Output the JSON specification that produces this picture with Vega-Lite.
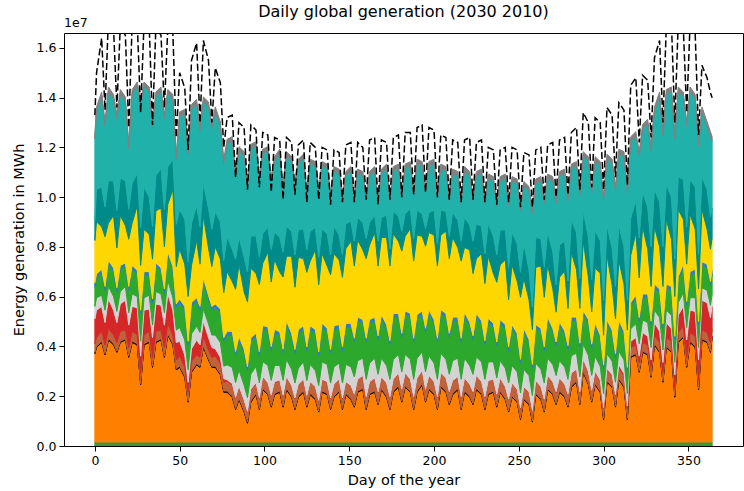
{
"$schema": "https://vega.github.io/schema/vega-lite/v6.json",
"width": 679, "height": 413,
"autosize": {"type": "none"},
"padding": {"left": 64, "top": 33, "right": 1, "bottom": 45},
"background": "white",
"title": {"text": "Daily global generation (2030 2010)", "fontSize": 16, "fontWeight": "normal", "font": "DejaVu Sans", "color": "black", "offset": -3, "anchor": "middle"},
"config": {"view": {"stroke": "black", "strokeWidth": 1}, "font": "DejaVu Sans"},
"data": {"values": [
{"day":0,"a":1.6e5,"b":3.55e6,"c":5e4,"d":3.5e5,"e":1e6,"f":5e5,"g":8e5,"h":1.5e5,"i":1.7e6,"j":8e5,"k":3.29e6,"l":1.8e5,"dem":1.33e7},
{"day":1,"a":1.6e5,"b":3.8e6,"c":5e4,"d":3.5e5,"e":1.1e6,"f":5e5,"g":8e5,"h":1.5e5,"i":2.1e6,"j":1.3e6,"k":3.14e6,"l":1.8e5,"dem":1.5e7},
{"day":4,"a":1.6e5,"b":4e6,"c":5e4,"d":4e5,"e":1e6,"f":4.5e5,"g":9e5,"h":1.5e5,"i":1.7e6,"j":1.6e6,"k":3.64e6,"l":1.8e5,"dem":1.64e7},
{"day":6,"a":1.6e5,"b":3.5e6,"c":5e4,"d":3.5e5,"e":9e5,"f":5e5,"g":8e5,"h":1.5e5,"i":2e6,"j":1.2e6,"k":3.24e6,"l":1.8e5,"dem":1.35e7},
{"day":8,"a":1.6e5,"b":4.1e6,"c":5e4,"d":4e5,"e":1.2e6,"f":5e5,"g":9e5,"h":1.5e5,"i":1.5e6,"j":1.7e6,"k":3.59e6,"l":1.8e5,"dem":1.72e7},
{"day":11,"a":1.6e5,"b":3.9e6,"c":5e4,"d":3.5e5,"e":1e6,"f":5.5e5,"g":1e6,"h":1.5e5,"i":2.1e6,"j":1.4e6,"k":3.29e6,"l":1.8e5,"dem":1.68e7},
{"day":13,"a":1.6e5,"b":3.6e6,"c":5e4,"d":3.5e5,"e":8e5,"f":4.5e5,"g":8e5,"h":1.5e5,"i":1.6e6,"j":1.5e6,"k":3.69e6,"l":1.8e5,"dem":1.36e7},
{"day":15,"a":1.6e5,"b":4e6,"c":5e4,"d":4e5,"e":1.1e6,"f":5e5,"g":9e5,"h":1.5e5,"i":2e6,"j":1.5e6,"k":3.39e6,"l":1.8e5,"dem":1.69e7},
{"day":18,"a":1.6e5,"b":4.1e6,"c":5e4,"d":3.5e5,"e":1.2e6,"f":5.5e5,"g":8e5,"h":1.5e5,"i":1.5e6,"j":1.8e6,"k":3.19e6,"l":1.8e5,"dem":1.65e7},
{"day":20,"a":1.6e5,"b":3.4e6,"c":5e4,"d":3.5e5,"e":9e5,"f":5e5,"g":9e5,"h":1.5e5,"i":1.9e6,"j":1.2e6,"k":2.44e6,"l":1.8e5,"dem":1.28e7},
{"day":22,"a":1.6e5,"b":4e6,"c":5e4,"d":4e5,"e":1e6,"f":5e5,"g":1e6,"h":1.5e5,"i":1.7e6,"j":1.6e6,"k":3.59e6,"l":1.8e5,"dem":1.7e7},
{"day":25,"a":1.6e5,"b":3.9e6,"c":5e4,"d":3.5e5,"e":1.1e6,"f":4.5e5,"g":9e5,"h":1.5e5,"i":2.6e6,"j":1.3e6,"k":3.49e6,"l":1.8e5,"dem":1.7e7},
{"day":27,"a":1.6e5,"b":2.3e6,"c":5e4,"d":4e5,"e":7e5,"f":6e5,"g":1.1e6,"h":1.5e5,"i":1.8e6,"j":1.5e6,"k":4.89e6,"l":1.8e5,"dem":1.34e7},
{"day":29,"a":1.6e5,"b":3.9e6,"c":5e4,"d":3.5e5,"e":1e6,"f":5e5,"g":9e5,"h":1.5e5,"i":1.7e6,"j":1.7e6,"k":4.04e6,"l":1.8e5,"dem":1.7e7},
{"day":32,"a":1.6e5,"b":4e6,"c":5e4,"d":4e5,"e":9e5,"f":5.5e5,"g":8e5,"h":1.5e5,"i":1.5e6,"j":1.5e6,"k":4.24e6,"l":1.8e5,"dem":1.7e7},
{"day":34,"a":1.6e5,"b":3e6,"c":5e4,"d":3.5e5,"e":8e5,"f":5e5,"g":9e5,"h":1.5e5,"i":1.6e6,"j":1.3e6,"k":4.04e6,"l":1.8e5,"dem":1.29e7},
{"day":36,"a":1.6e5,"b":4e6,"c":5e4,"d":4e5,"e":1.1e6,"f":5e5,"g":1e6,"h":1.5e5,"i":2.1e6,"j":1.4e6,"k":3.19e6,"l":1.8e5,"dem":1.69e7},
{"day":39,"a":1.6e5,"b":4.1e6,"c":5e4,"d":3.5e5,"e":1e6,"f":4.5e5,"g":9e5,"h":1.5e5,"i":2.4e6,"j":1.6e6,"k":3.09e6,"l":1.8e5,"dem":1.65e7},
{"day":41,"a":1.6e5,"b":3.4e6,"c":5e4,"d":3.5e5,"e":9e5,"f":5e5,"g":8e5,"h":1.5e5,"i":1.7e6,"j":1.5e6,"k":3.64e6,"l":1.8e5,"dem":1.36e7},
{"day":43,"a":1.6e5,"b":4.3e6,"c":5e4,"d":4e5,"e":1.2e6,"f":5.5e5,"g":1e6,"h":1.5e5,"i":1.9e6,"j":1.5e6,"k":2.94e6,"l":1.8e5,"dem":1.68e7},
{"day":46,"a":1.6e5,"b":3.9e6,"c":5e4,"d":3.5e5,"e":1e6,"f":5e5,"g":1.1e6,"h":1.5e5,"i":3.1e6,"j":1.2e6,"k":2.44e6,"l":1.8e5,"dem":1.66e7},
{"day":48,"a":1.6e5,"b":2.9e6,"c":5e4,"d":3.5e5,"e":7e5,"f":5e5,"g":9e5,"h":1.5e5,"i":1.5e6,"j":1.7e6,"k":2.64e6,"l":1.8e5,"dem":1.24e7},
{"day":50,"a":1.6e5,"b":3e6,"c":5e4,"d":4e5,"e":6e5,"f":5.5e5,"g":1e6,"h":1.5e5,"i":2e6,"j":1.6e6,"k":3.74e6,"l":1.8e5,"dem":1.5e7},
{"day":53,"a":1.6e5,"b":2.6e6,"c":5e4,"d":3.5e5,"e":5e5,"f":6e5,"g":1.2e6,"h":1.5e5,"i":1.7e6,"j":1.8e6,"k":4.24e6,"l":1.8e5,"dem":1.44e7},
{"day":55,"a":1.6e5,"b":1.6e6,"c":5e4,"d":3.5e5,"e":4e5,"f":5e5,"g":1e6,"h":1.5e5,"i":1.8e6,"j":1.4e6,"k":4.34e6,"l":1.8e5,"dem":1.19e7},
{"day":57,"a":1.6e5,"b":2.8e6,"c":5e4,"d":4e5,"e":5e5,"f":6e5,"g":1.1e6,"h":1.5e5,"i":1.5e6,"j":1.7e6,"k":4.59e6,"l":1.8e5,"dem":1.55e7},
{"day":60,"a":1.6e5,"b":3.1e6,"c":5e4,"d":3.5e5,"e":6e5,"f":5.5e5,"g":1e6,"h":1.5e5,"i":2.3e6,"j":1.4e6,"k":4.09e6,"l":1.8e5,"dem":1.62e7},
{"day":62,"a":1.6e5,"b":3e6,"c":5e4,"d":3.5e5,"e":5e5,"f":5e5,"g":9e5,"h":1.5e5,"i":1.7e6,"j":1.5e6,"k":3.84e6,"l":1.8e5,"dem":1.3e7},
{"day":64,"a":1.6e5,"b":3.8e6,"c":5e4,"d":4e5,"e":6e5,"f":5e5,"g":1.1e6,"h":1.5e5,"i":2.5e6,"j":1.3e6,"k":3.29e6,"l":1.8e5,"dem":1.63e7},
{"day":67,"a":1.6e5,"b":3.3e6,"c":5e4,"d":3.5e5,"e":5e5,"f":5.5e5,"g":1e6,"h":1.5e5,"i":1.9e6,"j":1.6e6,"k":4.09e6,"l":1.8e5,"dem":1.55e7},
{"day":69,"a":1.6e5,"b":3e6,"c":5e4,"d":3.5e5,"e":4e5,"f":5e5,"g":1e6,"h":1.5e5,"i":1.6e6,"j":1.5e6,"k":4.04e6,"l":1.8e5,"dem":1.3e7},
{"day":71,"a":1.6e5,"b":3e6,"c":5e4,"d":4e5,"e":3e5,"f":5.5e5,"g":1.1e6,"h":1.5e5,"i":2.3e6,"j":1.4e6,"k":4.04e6,"l":1.8e5,"dem":1.52e7},
{"day":74,"a":1.6e5,"b":2.7e6,"c":5e4,"d":4e5,"e":2.5e5,"f":6e5,"g":1.2e6,"h":1.5e5,"i":2e6,"j":1.5e6,"k":3.84e6,"l":1.8e5,"dem":1.46e7},
{"day":76,"a":1.6e5,"b":2e6,"c":5e4,"d":3.5e5,"e":1.5e5,"f":5e5,"g":1e6,"h":1.5e5,"i":1.8e6,"j":1.3e6,"k":3.89e6,"l":1.8e5,"dem":1.2e7},
{"day":78,"a":1.6e5,"b":2e6,"c":5e4,"d":4e5,"e":5e4,"f":6e5,"g":1.2e6,"h":1.5e5,"i":2.4e6,"j":1.4e6,"k":3.74e6,"l":1.8e5,"dem":1.32e7},
{"day":81,"a":1.6e5,"b":1.8e6,"c":5e4,"d":4.5e5,"e":5e4,"f":6.5e5,"g":1.3e6,"h":1.5e5,"i":2e6,"j":1.3e6,"k":4.34e6,"l":1.8e5,"dem":1.33e7},
{"day":83,"a":1.6e5,"b":1.3e6,"c":5e4,"d":4e5,"e":4e4,"f":6e5,"g":1.1e6,"h":1.5e5,"i":2.5e6,"j":1.2e6,"k":3.25e6,"l":1.8e5,"dem":1.08e7},
{"day":85,"a":1.6e5,"b":1.7e6,"c":5e4,"d":4.5e5,"e":4e4,"f":6.5e5,"g":1.2e6,"h":1.5e5,"i":2.9e6,"j":1.1e6,"k":3.45e6,"l":1.8e5,"dem":1.3e7},
{"day":88,"a":1.6e5,"b":1.2e6,"c":5e4,"d":4e5,"e":3e4,"f":6e5,"g":1.3e6,"h":1.5e5,"i":2.3e6,"j":1.4e6,"k":4.06e6,"l":1.8e5,"dem":1.28e7},
{"day":90,"a":1.6e5,"b":7.5e5,"c":5e4,"d":4e5,"e":3e4,"f":5.5e5,"g":1.1e6,"h":1.5e5,"i":2.6e6,"j":1.2e6,"k":3.36e6,"l":1.8e5,"dem":1.03e7},
{"day":92,"a":1.6e5,"b":1.6e6,"c":5e4,"d":4.5e5,"e":3e4,"f":6e5,"g":1.3e6,"h":1.5e5,"i":2.8e6,"j":1.3e6,"k":3.51e6,"l":1.8e5,"dem":1.29e7},
{"day":95,"a":1.6e5,"b":1.9e6,"c":5e4,"d":4e5,"e":3e4,"f":6.5e5,"g":1.2e6,"h":1.5e5,"i":2.4e6,"j":1.5e6,"k":3.61e6,"l":1.8e5,"dem":1.27e7},
{"day":97,"a":1.6e5,"b":1.3e6,"c":5e4,"d":4e5,"e":3e4,"f":6e5,"g":1.1e6,"h":1.5e5,"i":2.7e6,"j":1.1e6,"k":3.16e6,"l":1.8e5,"dem":1.04e7},
{"day":99,"a":1.6e5,"b":2.1e6,"c":5e4,"d":4.5e5,"e":3e4,"f":6e5,"g":1.3e6,"h":1.5e5,"i":2.5e6,"j":1.2e6,"k":3.21e6,"l":1.8e5,"dem":1.26e7},
{"day":102,"a":1.6e5,"b":1.9e6,"c":5e4,"d":4e5,"e":3e4,"f":7e5,"g":1.4e6,"h":1.5e5,"i":3e6,"j":1e6,"k":3.06e6,"l":1.8e5,"dem":1.25e7},
{"day":104,"a":1.6e5,"b":1.4e6,"c":5e4,"d":4e5,"e":3e4,"f":6e5,"g":1.2e6,"h":1.5e5,"i":2.6e6,"j":1.3e6,"k":2.76e6,"l":1.8e5,"dem":1.02e7},
{"day":106,"a":1.6e5,"b":1.9e6,"c":5e4,"d":4.5e5,"e":3e4,"f":6.5e5,"g":1.3e6,"h":1.5e5,"i":2.8e6,"j":1.1e6,"k":2.86e6,"l":1.8e5,"dem":1.24e7},
{"day":109,"a":1.6e5,"b":2e6,"c":5e4,"d":4e5,"e":3e4,"f":6e5,"g":1.2e6,"h":1.5e5,"i":2.4e6,"j":1.4e6,"k":3.36e6,"l":1.8e5,"dem":1.23e7},
{"day":111,"a":1.6e5,"b":1.4e6,"c":5e4,"d":4e5,"e":3e4,"f":6e5,"g":1.1e6,"h":1.5e5,"i":2.9e6,"j":1e6,"k":2.46e6,"l":1.8e5,"dem":9.9e6},
{"day":113,"a":1.6e5,"b":2.1e6,"c":5e4,"d":4.5e5,"e":2e4,"f":7e5,"g":1.4e6,"h":1.5e5,"i":2.6e6,"j":1.2e6,"k":2.82e6,"l":1.8e5,"dem":1.24e7},
{"day":116,"a":1.6e5,"b":1.8e6,"c":5e4,"d":4e5,"e":2e4,"f":6.5e5,"g":1.3e6,"h":1.5e5,"i":3.1e6,"j":1e6,"k":2.82e6,"l":1.8e5,"dem":1.22e7},
{"day":118,"a":1.6e5,"b":1.3e6,"c":5e4,"d":4e5,"e":2e4,"f":6e5,"g":1.2e6,"h":1.5e5,"i":2.5e6,"j":1.3e6,"k":2.77e6,"l":1.8e5,"dem":1.01e7},
{"day":120,"a":1.6e5,"b":1.8e6,"c":5e4,"d":4.5e5,"e":2e4,"f":6.5e5,"g":1.4e6,"h":1.5e5,"i":2.9e6,"j":1.1e6,"k":2.67e6,"l":1.8e5,"dem":1.21e7},
{"day":123,"a":1.6e5,"b":2e6,"c":5e4,"d":4.5e5,"e":2e4,"f":7e5,"g":1.3e6,"h":1.5e5,"i":2.7e6,"j":1.2e6,"k":2.82e6,"l":1.8e5,"dem":1.23e7},
{"day":125,"a":1.6e5,"b":1.4e6,"c":5e4,"d":4e5,"e":2e4,"f":6e5,"g":1.2e6,"h":1.5e5,"i":3e6,"j":9e5,"k":2.17e6,"l":1.8e5,"dem":9.8e6},
{"day":127,"a":1.6e5,"b":1.9e6,"c":5e4,"d":4.5e5,"e":2e4,"f":7e5,"g":1.4e6,"h":1.5e5,"i":2.6e6,"j":1.2e6,"k":2.72e6,"l":1.8e5,"dem":1.22e7},
{"day":130,"a":1.6e5,"b":1.7e6,"c":5e4,"d":4.5e5,"e":2e4,"f":6.5e5,"g":1.5e6,"h":1.5e5,"i":3.2e6,"j":9e5,"k":2.47e6,"l":1.8e5,"dem":1.2e7},
{"day":132,"a":1.6e5,"b":1.2e6,"c":5e4,"d":4e5,"e":2e4,"f":6e5,"g":1.2e6,"h":1.5e5,"i":2.7e6,"j":1.1e6,"k":2.57e6,"l":1.8e5,"dem":9.9e6},
{"day":134,"a":1.6e5,"b":2e6,"c":5e4,"d":4.5e5,"e":2e4,"f":7e5,"g":1.4e6,"h":1.5e5,"i":2.8e6,"j":1e6,"k":2.52e6,"l":1.8e5,"dem":1.2e7},
{"day":137,"a":1.6e5,"b":1.9e6,"c":5e4,"d":4.5e5,"e":2e4,"f":7e5,"g":1.3e6,"h":1.5e5,"i":2.5e6,"j":1.3e6,"k":2.62e6,"l":1.8e5,"dem":1.19e7},
{"day":139,"a":1.6e5,"b":1.3e6,"c":5e4,"d":4e5,"e":2e4,"f":6e5,"g":1.2e6,"h":1.5e5,"i":3e6,"j":8e5,"k":2.27e6,"l":1.8e5,"dem":9.7e6},
{"day":141,"a":1.6e5,"b":1.8e6,"c":5e4,"d":4.5e5,"e":2e4,"f":7e5,"g":1.5e6,"h":1.5e5,"i":2.9e6,"j":1.1e6,"k":2.22e6,"l":1.8e5,"dem":1.19e7},
{"day":144,"a":1.6e5,"b":2e6,"c":5e4,"d":4.5e5,"e":2e4,"f":6.5e5,"g":1.4e6,"h":1.5e5,"i":2.6e6,"j":1e6,"k":2.47e6,"l":1.8e5,"dem":1.18e7},
{"day":146,"a":1.6e5,"b":1.3e6,"c":5e4,"d":4e5,"e":2e4,"f":6e5,"g":1.3e6,"h":1.5e5,"i":2.8e6,"j":9e5,"k":2.17e6,"l":1.8e5,"dem":9.8e6},
{"day":148,"a":1.6e5,"b":1.9e6,"c":5e4,"d":4.5e5,"e":2e4,"f":7e5,"g":1.5e6,"h":1.5e5,"i":3e6,"j":1e6,"k":1.92e6,"l":1.8e5,"dem":1.21e7},
{"day":151,"a":1.6e5,"b":1.7e6,"c":5e4,"d":5e5,"e":2e4,"f":7.5e5,"g":1.6e6,"h":1.5e5,"i":3.3e6,"j":8e5,"k":2.02e6,"l":1.8e5,"dem":1.22e7},
{"day":153,"a":1.6e5,"b":1.4e6,"c":5e4,"d":4.5e5,"e":2e4,"f":7e5,"g":1.4e6,"h":1.5e5,"i":2.9e6,"j":1e6,"k":1.62e6,"l":1.8e5,"dem":9.8e6},
{"day":155,"a":1.6e5,"b":2e6,"c":5e4,"d":4.5e5,"e":2e4,"f":7.5e5,"g":1.6e6,"h":1.5e5,"i":3.1e6,"j":9e5,"k":1.77e6,"l":1.8e5,"dem":1.22e7},
{"day":158,"a":1.6e5,"b":2.1e6,"c":5e4,"d":5e5,"e":2e4,"f":7e5,"g":1.4e6,"h":1.5e5,"i":2.8e6,"j":1.1e6,"k":1.87e6,"l":1.8e5,"dem":1.2e7},
{"day":160,"a":1.6e5,"b":1.3e6,"c":5e4,"d":4.5e5,"e":2e4,"f":7e5,"g":1.5e6,"h":1.5e5,"i":3.2e6,"j":8e5,"k":1.62e6,"l":1.8e5,"dem":9.9e6},
{"day":162,"a":1.6e5,"b":1.9e6,"c":5e4,"d":4.5e5,"e":2e4,"f":7.5e5,"g":1.6e6,"h":1.5e5,"i":3e6,"j":9e5,"k":1.87e6,"l":1.8e5,"dem":1.23e7},
{"day":165,"a":1.6e5,"b":2e6,"c":5e4,"d":5e5,"e":2e4,"f":8e5,"g":1.5e6,"h":1.5e5,"i":3.4e6,"j":7e5,"k":1.77e6,"l":1.8e5,"dem":1.24e7},
{"day":167,"a":1.6e5,"b":1.5e6,"c":5e4,"d":4.5e5,"e":2e4,"f":7e5,"g":1.4e6,"h":1.5e5,"i":2.8e6,"j":1e6,"k":1.52e6,"l":1.8e5,"dem":9.7e6},
{"day":169,"a":1.6e5,"b":2.1e6,"c":5e4,"d":4.5e5,"e":2e4,"f":7.5e5,"g":1.6e6,"h":1.5e5,"i":3.1e6,"j":8e5,"k":1.77e6,"l":1.8e5,"dem":1.23e7},
{"day":172,"a":1.6e5,"b":1.8e6,"c":5e4,"d":5e5,"e":2e4,"f":7e5,"g":1.5e6,"h":1.5e5,"i":3.5e6,"j":9e5,"k":1.87e6,"l":1.8e5,"dem":1.22e7},
{"day":174,"a":1.6e5,"b":1.3e6,"c":5e4,"d":4.5e5,"e":2e4,"f":7e5,"g":1.4e6,"h":1.5e5,"i":3e6,"j":7e5,"k":1.92e6,"l":1.8e5,"dem":9.9e6},
{"day":176,"a":1.6e5,"b":2e6,"c":5e4,"d":4.5e5,"e":2e4,"f":8e5,"g":1.7e6,"h":1.5e5,"i":3.2e6,"j":9e5,"k":1.62e6,"l":1.8e5,"dem":1.24e7},
{"day":179,"a":1.6e5,"b":2.2e6,"c":5e4,"d":5e5,"e":2e4,"f":7.5e5,"g":1.5e6,"h":1.5e5,"i":2.9e6,"j":1e6,"k":1.92e6,"l":1.8e5,"dem":1.25e7},
{"day":181,"a":1.6e5,"b":1.6e6,"c":5e4,"d":4.5e5,"e":2e4,"f":7e5,"g":1.4e6,"h":1.5e5,"i":3.3e6,"j":8e5,"k":1.32e6,"l":1.8e5,"dem":1e7},
{"day":183,"a":1.6e5,"b":2.2e6,"c":5e4,"d":5e5,"e":2e4,"f":7.5e5,"g":1.6e6,"h":1.5e5,"i":3e6,"j":9e5,"k":1.82e6,"l":1.8e5,"dem":1.26e7},
{"day":186,"a":1.6e5,"b":2e6,"c":5e4,"d":4.5e5,"e":2e4,"f":8e5,"g":1.7e6,"h":1.5e5,"i":3.4e6,"j":8e5,"k":1.72e6,"l":1.8e5,"dem":1.26e7},
{"day":188,"a":1.6e5,"b":1.3e6,"c":5e4,"d":4.5e5,"e":2e4,"f":7e5,"g":1.5e6,"h":1.5e5,"i":3.1e6,"j":9e5,"k":1.72e6,"l":1.8e5,"dem":1.01e7},
{"day":190,"a":1.6e5,"b":2e6,"c":5e4,"d":5e5,"e":2e4,"f":8e5,"g":1.6e6,"h":1.5e5,"i":3.2e6,"j":1e6,"k":1.87e6,"l":1.8e5,"dem":1.28e7},
{"day":193,"a":1.6e5,"b":2.3e6,"c":5e4,"d":5e5,"e":2e4,"f":7.5e5,"g":1.5e6,"h":1.5e5,"i":3e6,"j":9e5,"k":1.92e6,"l":1.8e5,"dem":1.29e7},
{"day":195,"a":1.6e5,"b":1.6e6,"c":5e4,"d":4.5e5,"e":2e4,"f":7e5,"g":1.6e6,"h":1.5e5,"i":3.3e6,"j":7e5,"k":1.42e6,"l":1.8e5,"dem":1.02e7},
{"day":197,"a":1.6e5,"b":2.1e6,"c":5e4,"d":5e5,"e":2e4,"f":8e5,"g":1.7e6,"h":1.5e5,"i":3.1e6,"j":8e5,"k":1.87e6,"l":1.8e5,"dem":1.28e7},
{"day":200,"a":1.6e5,"b":1.9e6,"c":5e4,"d":4.5e5,"e":2e4,"f":7.5e5,"g":1.6e6,"h":1.5e5,"i":3.4e6,"j":1e6,"k":1.87e6,"l":1.8e5,"dem":1.27e7},
{"day":202,"a":1.6e5,"b":1.3e6,"c":5e4,"d":4.5e5,"e":2e4,"f":7e5,"g":1.5e6,"h":1.5e5,"i":2.9e6,"j":9e5,"k":1.82e6,"l":1.8e5,"dem":1e7},
{"day":204,"a":1.6e5,"b":2.2e6,"c":5e4,"d":5e5,"e":2e4,"f":8e5,"g":1.6e6,"h":1.5e5,"i":3e6,"j":1e6,"k":1.67e6,"l":1.8e5,"dem":1.25e7},
{"day":207,"a":1.6e5,"b":2e6,"c":5e4,"d":5e5,"e":2e4,"f":7.5e5,"g":1.7e6,"h":1.5e5,"i":3.3e6,"j":8e5,"k":1.62e6,"l":1.8e5,"dem":1.24e7},
{"day":209,"a":1.6e5,"b":1.5e6,"c":5e4,"d":4.5e5,"e":2e4,"f":7e5,"g":1.5e6,"h":1.5e5,"i":3e6,"j":9e5,"k":1.42e6,"l":1.8e5,"dem":9.9e6},
{"day":211,"a":1.6e5,"b":1.9e6,"c":5e4,"d":5e5,"e":2e4,"f":8e5,"g":1.6e6,"h":1.5e5,"i":3.2e6,"j":1e6,"k":1.57e6,"l":1.8e5,"dem":1.23e7},
{"day":214,"a":1.6e5,"b":2.1e6,"c":5e4,"d":4.5e5,"e":2e4,"f":7.5e5,"g":1.5e6,"h":1.5e5,"i":2.8e6,"j":1.1e6,"k":1.77e6,"l":1.8e5,"dem":1.22e7},
{"day":216,"a":1.6e5,"b":1.3e6,"c":5e4,"d":4.5e5,"e":2e4,"f":7e5,"g":1.5e6,"h":1.5e5,"i":3.1e6,"j":8e5,"k":1.52e6,"l":1.8e5,"dem":9.8e6},
{"day":218,"a":1.6e5,"b":2e6,"c":5e4,"d":5e5,"e":2e4,"f":8e5,"g":1.7e6,"h":1.5e5,"i":2.6e6,"j":1.2e6,"k":1.87e6,"l":1.8e5,"dem":1.23e7},
{"day":221,"a":1.6e5,"b":1.8e6,"c":5e4,"d":4.5e5,"e":2e4,"f":7.5e5,"g":1.6e6,"h":1.5e5,"i":2.9e6,"j":1e6,"k":1.97e6,"l":1.8e5,"dem":1.24e7},
{"day":223,"a":1.6e5,"b":1.5e6,"c":5e4,"d":4.5e5,"e":2e4,"f":7e5,"g":1.4e6,"h":1.5e5,"i":2.5e6,"j":1.3e6,"k":1.62e6,"l":1.8e5,"dem":9.9e6},
{"day":225,"a":1.6e5,"b":2.1e6,"c":5e4,"d":5e5,"e":2e4,"f":7.5e5,"g":1.6e6,"h":1.5e5,"i":2.2e6,"j":1.4e6,"k":1.92e6,"l":1.8e5,"dem":1.22e7},
{"day":228,"a":1.6e5,"b":1.9e6,"c":5e4,"d":4.5e5,"e":2e4,"f":8e5,"g":1.5e6,"h":1.5e5,"i":2.7e6,"j":1.1e6,"k":2.12e6,"l":1.8e5,"dem":1.23e7},
{"day":230,"a":1.6e5,"b":1.3e6,"c":5e4,"d":4.5e5,"e":2e4,"f":7e5,"g":1.4e6,"h":1.5e5,"i":2.3e6,"j":1.2e6,"k":2.02e6,"l":1.8e5,"dem":9.8e6},
{"day":232,"a":1.6e5,"b":1.9e6,"c":5e4,"d":5e5,"e":2e4,"f":7.5e5,"g":1.6e6,"h":1.5e5,"i":2.5e6,"j":1.3e6,"k":1.82e6,"l":1.8e5,"dem":1.2e7},
{"day":235,"a":1.6e5,"b":2e6,"c":5e4,"d":4.5e5,"e":2e4,"f":7e5,"g":1.4e6,"h":1.5e5,"i":2e6,"j":1.5e6,"k":2.22e6,"l":1.8e5,"dem":1.19e7},
{"day":237,"a":1.6e5,"b":1.4e6,"c":5e4,"d":4.5e5,"e":2e4,"f":6.5e5,"g":1.3e6,"h":1.5e5,"i":2.4e6,"j":1.1e6,"k":1.97e6,"l":1.8e5,"dem":9.7e6},
{"day":239,"a":1.6e5,"b":2e6,"c":5e4,"d":5e5,"e":2e4,"f":7e5,"g":1.5e6,"h":1.5e5,"i":2.2e6,"j":1.4e6,"k":1.97e6,"l":1.8e5,"dem":1.19e7},
{"day":242,"a":1.6e5,"b":1.7e6,"c":5e4,"d":4.5e5,"e":2e4,"f":7.5e5,"g":1.6e6,"h":1.5e5,"i":2.6e6,"j":1.2e6,"k":2.07e6,"l":1.8e5,"dem":1.2e7},
{"day":244,"a":1.6e5,"b":1.2e6,"c":5e4,"d":4.5e5,"e":2e4,"f":6.5e5,"g":1.3e6,"h":1.5e5,"i":1.9e6,"j":1.3e6,"k":2.47e6,"l":1.8e5,"dem":9.8e6},
{"day":246,"a":1.6e5,"b":1.8e6,"c":5e4,"d":5e5,"e":2e4,"f":7e5,"g":1.5e6,"h":1.5e5,"i":2.4e6,"j":1.3e6,"k":2.07e6,"l":1.8e5,"dem":1.2e7},
{"day":249,"a":1.6e5,"b":1.6e6,"c":5e4,"d":4.5e5,"e":2e4,"f":7e5,"g":1.4e6,"h":1.5e5,"i":2.1e6,"j":1.5e6,"k":2.42e6,"l":1.8e5,"dem":1.19e7},
{"day":251,"a":1.6e5,"b":9e5,"c":5e4,"d":4e5,"e":2e4,"f":6e5,"g":1.2e6,"h":1.5e5,"i":2.5e6,"j":1e6,"k":2.47e6,"l":1.8e5,"dem":9.6e6},
{"day":253,"a":1.6e5,"b":1.7e6,"c":5e4,"d":4.5e5,"e":2e4,"f":7e5,"g":1.5e6,"h":1.5e5,"i":2e6,"j":1.4e6,"k":2.32e6,"l":1.8e5,"dem":1.18e7},
{"day":256,"a":1.6e5,"b":1.5e6,"c":5e4,"d":4.5e5,"e":2e4,"f":6.5e5,"g":1.3e6,"h":1.5e5,"i":1.6e6,"j":1.2e6,"k":3.17e6,"l":1.8e5,"dem":1.17e7},
{"day":258,"a":1.6e5,"b":8e5,"c":5e4,"d":4e5,"e":2e4,"f":6e5,"g":1.1e6,"h":1.5e5,"i":1.4e6,"j":9e5,"k":3.77e6,"l":1.8e5,"dem":9.6e6},
{"day":260,"a":1.6e5,"b":1.9e6,"c":5e4,"d":5e5,"e":2e4,"f":7e5,"g":1.4e6,"h":1.5e5,"i":2.3e6,"j":1.2e6,"k":2.17e6,"l":1.8e5,"dem":1.19e7},
{"day":263,"a":1.6e5,"b":1.7e6,"c":5e4,"d":4.5e5,"e":2e4,"f":7e5,"g":1.5e6,"h":1.5e5,"i":2.5e6,"j":1.1e6,"k":2.32e6,"l":1.8e5,"dem":1.2e7},
{"day":265,"a":1.6e5,"b":1.2e6,"c":5e4,"d":4.5e5,"e":2e4,"f":6.5e5,"g":1.3e6,"h":1.5e5,"i":2e6,"j":1.2e6,"k":2.57e6,"l":1.8e5,"dem":9.9e6},
{"day":267,"a":1.6e5,"b":2.1e6,"c":5e4,"d":5e5,"e":2e4,"f":7e5,"g":1.5e6,"h":1.5e5,"i":2.1e6,"j":1.3e6,"k":2.17e6,"l":1.8e5,"dem":1.21e7},
{"day":270,"a":1.6e5,"b":1.9e6,"c":5e4,"d":4.5e5,"e":2e4,"f":7e5,"g":1.3e6,"h":1.5e5,"i":1.6e6,"j":1.5e6,"k":2.82e6,"l":1.8e5,"dem":1.22e7},
{"day":272,"a":1.6e5,"b":1.5e6,"c":5e4,"d":4.5e5,"e":2e4,"f":6.5e5,"g":1.2e6,"h":1.5e5,"i":1.2e6,"j":1.1e6,"k":3.27e6,"l":1.8e5,"dem":1e7},
{"day":274,"a":1.6e5,"b":2e6,"c":5e4,"d":5e5,"e":2e4,"f":7e5,"g":1.4e6,"h":1.5e5,"i":1.8e6,"j":1.3e6,"k":2.77e6,"l":1.8e5,"dem":1.23e7},
{"day":277,"a":1.6e5,"b":1.8e6,"c":5e4,"d":4.5e5,"e":2e4,"f":7e5,"g":1.3e6,"h":1.5e5,"i":2.4e6,"j":1.2e6,"k":2.72e6,"l":1.8e5,"dem":1.24e7},
{"day":279,"a":1.6e5,"b":1.4e6,"c":5e4,"d":4.5e5,"e":2e4,"f":6e5,"g":1.2e6,"h":1.5e5,"i":1.5e6,"j":1.1e6,"k":3.22e6,"l":1.8e5,"dem":1.01e7},
{"day":281,"a":1.6e5,"b":2.2e6,"c":5e4,"d":5e5,"e":2e4,"f":7e5,"g":1.4e6,"h":1.5e5,"i":2.6e6,"j":1.3e6,"k":2.07e6,"l":1.8e5,"dem":1.26e7},
{"day":284,"a":1.6e5,"b":2.4e6,"c":5e4,"d":4.5e5,"e":2e4,"f":6.5e5,"g":1.3e6,"h":1.5e5,"i":1.9e6,"j":1.5e6,"k":2.67e6,"l":1.8e5,"dem":1.28e7},
{"day":286,"a":1.6e5,"b":1.5e6,"c":5e4,"d":4.5e5,"e":2e4,"f":6e5,"g":1.2e6,"h":1.5e5,"i":1.4e6,"j":1.2e6,"k":3.32e6,"l":1.8e5,"dem":1.03e7},
{"day":288,"a":1.6e5,"b":2.8e6,"c":5e4,"d":4.5e5,"e":3e4,"f":6e5,"g":1.2e6,"h":1.5e5,"i":2.8e6,"j":1.2e6,"k":2.21e6,"l":1.8e5,"dem":1.34e7},
{"day":291,"a":1.6e5,"b":2.3e6,"c":5e4,"d":4.5e5,"e":3e4,"f":6.5e5,"g":1.3e6,"h":1.5e5,"i":1.7e6,"j":1.6e6,"k":3.06e6,"l":1.8e5,"dem":1.3e7},
{"day":293,"a":1.6e5,"b":1.6e6,"c":5e4,"d":4e5,"e":3e4,"f":6e5,"g":1.1e6,"h":1.5e5,"i":1.3e6,"j":1.3e6,"k":3.46e6,"l":1.8e5,"dem":1.04e7},
{"day":295,"a":1.6e5,"b":2.3e6,"c":5e4,"d":4.5e5,"e":4e4,"f":6e5,"g":1.2e6,"h":1.5e5,"i":2.2e6,"j":1.5e6,"k":2.8e6,"l":1.8e5,"dem":1.32e7},
{"day":298,"a":1.6e5,"b":2e6,"c":5e4,"d":4e5,"e":4e4,"f":5.5e5,"g":1.1e6,"h":1.5e5,"i":2.5e6,"j":1.3e6,"k":3e6,"l":1.8e5,"dem":1.3e7},
{"day":300,"a":1.6e5,"b":9e5,"c":5e4,"d":4e5,"e":4e4,"f":5.5e5,"g":1e6,"h":1.5e5,"i":1.2e6,"j":1.4e6,"k":4e6,"l":1.8e5,"dem":1.03e7},
{"day":302,"a":1.6e5,"b":2.4e6,"c":5e4,"d":4.5e5,"e":5e4,"f":6e5,"g":1.2e6,"h":1.5e5,"i":2.6e6,"j":1.2e6,"k":2.69e6,"l":1.8e5,"dem":1.36e7},
{"day":305,"a":1.6e5,"b":2.2e6,"c":5e4,"d":4e5,"e":5e4,"f":5.5e5,"g":1.1e6,"h":1.5e5,"i":1.8e6,"j":1.5e6,"k":3.39e6,"l":1.8e5,"dem":1.33e7},
{"day":307,"a":1.6e5,"b":1.4e6,"c":5e4,"d":4e5,"e":5e4,"f":5e5,"g":1e6,"h":1.5e5,"i":1.4e6,"j":1.3e6,"k":3.84e6,"l":1.8e5,"dem":1.08e7},
{"day":309,"a":1.6e5,"b":2.5e6,"c":5e4,"d":4.5e5,"e":1e5,"f":5.5e5,"g":1.1e6,"h":1.5e5,"i":2.4e6,"j":1.4e6,"k":2.89e6,"l":1.8e5,"dem":1.38e7},
{"day":312,"a":1.6e5,"b":2.2e6,"c":5e4,"d":4e5,"e":1e5,"f":5.5e5,"g":1e6,"h":1.5e5,"i":1.9e6,"j":1.5e6,"k":3.64e6,"l":1.8e5,"dem":1.35e7},
{"day":314,"a":1.6e5,"b":9e5,"c":5e4,"d":4e5,"e":1e5,"f":5e5,"g":9e5,"h":1.5e5,"i":1.5e6,"j":1.2e6,"k":4.29e6,"l":1.8e5,"dem":1.05e7},
{"day":316,"a":1.6e5,"b":3.4e6,"c":5e4,"d":3.5e5,"e":2.5e5,"f":5e5,"g":9e5,"h":1.5e5,"i":1.9e6,"j":1.5e6,"k":3.09e6,"l":1.8e5,"dem":1.45e7},
{"day":319,"a":1.6e5,"b":3.5e6,"c":5e4,"d":3.5e5,"e":3e5,"f":5.5e5,"g":1e6,"h":1.5e5,"i":2.5e6,"j":1.3e6,"k":2.59e6,"l":1.8e5,"dem":1.48e7},
{"day":321,"a":1.6e5,"b":2.8e6,"c":5e4,"d":3.5e5,"e":2.5e5,"f":5e5,"g":9e5,"h":1.5e5,"i":1.6e6,"j":1.6e6,"k":3.29e6,"l":1.8e5,"dem":1.22e7},
{"day":323,"a":1.6e5,"b":3.6e6,"c":5e4,"d":3.5e5,"e":4e5,"f":5e5,"g":9e5,"h":1.5e5,"i":2.7e6,"j":1.4e6,"k":2.54e6,"l":1.8e5,"dem":1.49e7},
{"day":326,"a":1.6e5,"b":3.5e6,"c":5e4,"d":3.5e5,"e":3.5e5,"f":5.5e5,"g":1e6,"h":1.5e5,"i":1.8e6,"j":1.7e6,"k":3.34e6,"l":1.8e5,"dem":1.47e7},
{"day":328,"a":1.6e5,"b":2.6e6,"c":5e4,"d":3.5e5,"e":3e5,"f":5e5,"g":9e5,"h":1.5e5,"i":1.4e6,"j":1.6e6,"k":3.84e6,"l":1.8e5,"dem":1.24e7},
{"day":330,"a":1.6e5,"b":3.9e6,"c":5e4,"d":3.5e5,"e":5e5,"f":5e5,"g":9e5,"h":1.5e5,"i":2.3e6,"j":1.5e6,"k":3.14e6,"l":1.8e5,"dem":1.56e7},
{"day":333,"a":1.6e5,"b":3.6e6,"c":5e4,"d":3.5e5,"e":4.5e5,"f":5.5e5,"g":1e6,"h":1.5e5,"i":1.7e6,"j":1.8e6,"k":4.24e6,"l":1.8e5,"dem":1.63e7},
{"day":335,"a":1.6e5,"b":2.4e6,"c":5e4,"d":3.5e5,"e":4e5,"f":5e5,"g":9e5,"h":1.5e5,"i":1.5e6,"j":1.6e6,"k":4.44e6,"l":1.8e5,"dem":1.3e7},
{"day":337,"a":1.6e5,"b":3.8e6,"c":5e4,"d":3.5e5,"e":6e5,"f":5e5,"g":9e5,"h":1.5e5,"i":2.6e6,"j":1.4e6,"k":3.64e6,"l":1.8e5,"dem":1.69e7},
{"day":340,"a":1.6e5,"b":3.6e6,"c":5e4,"d":4e5,"e":5e5,"f":5.5e5,"g":1e6,"h":1.5e5,"i":1.9e6,"j":1.7e6,"k":4.24e6,"l":1.8e5,"dem":1.7e7},
{"day":342,"a":1.6e5,"b":1.8e6,"c":5e4,"d":3.5e5,"e":5e5,"f":5e5,"g":9e5,"h":1.5e5,"i":1.6e6,"j":1.5e6,"k":4.84e6,"l":1.8e5,"dem":1.3e7},
{"day":344,"a":1.6e5,"b":4e6,"c":5e4,"d":3.5e5,"e":7e5,"f":5e5,"g":9e5,"h":1.5e5,"i":2.7e6,"j":1.3e6,"k":3.44e6,"l":1.8e5,"dem":1.7e7},
{"day":347,"a":1.6e5,"b":4.2e6,"c":5e4,"d":4e5,"e":8e5,"f":5.5e5,"g":1e6,"h":1.5e5,"i":1.8e6,"j":1.6e6,"k":3.34e6,"l":1.8e5,"dem":1.68e7},
{"day":349,"a":1.6e5,"b":3e6,"c":5e4,"d":3.5e5,"e":7e5,"f":5e5,"g":9e5,"h":1.5e5,"i":1.5e6,"j":1.5e6,"k":4.04e6,"l":1.8e5,"dem":1.34e7},
{"day":351,"a":1.6e5,"b":4e6,"c":5e4,"d":3.5e5,"e":9e5,"f":5e5,"g":9e5,"h":1.5e5,"i":2.3e6,"j":1.4e6,"k":3.54e6,"l":1.8e5,"dem":1.7e7},
{"day":354,"a":1.6e5,"b":3.8e6,"c":5e4,"d":4e5,"e":1e6,"f":5.5e5,"g":1e6,"h":1.5e5,"i":1.6e6,"j":1.7e6,"k":3.54e6,"l":1.8e5,"dem":1.66e7},
{"day":356,"a":1.6e5,"b":2.1e6,"c":5e4,"d":3.5e5,"e":8e5,"f":5e5,"g":9e5,"h":1.5e5,"i":1.3e6,"j":1.4e6,"k":4.34e6,"l":1.8e5,"dem":1.25e7},
{"day":358,"a":1.6e5,"b":4.1e6,"c":5e4,"d":3.5e5,"e":1.2e6,"f":5e5,"g":9e5,"h":1.5e5,"i":2.1e6,"j":1.3e6,"k":2.64e6,"l":1.8e5,"dem":1.53e7},
{"day":361,"a":1.6e5,"b":4e6,"c":5e4,"d":3.5e5,"e":1.2e6,"f":5e5,"g":9e5,"h":1.5e5,"i":1.4e6,"j":1.6e6,"k":2.54e6,"l":1.8e5,"dem":1.48e7},
{"day":363,"a":1.6e5,"b":3.6e6,"c":5e4,"d":3.5e5,"e":1e6,"f":5e5,"g":8e5,"h":1.5e5,"i":1.3e6,"j":1.3e6,"k":3.24e6,"l":1.8e5,"dem":1.42e7},
{"day":364,"a":1.6e5,"b":4.2e6,"c":5e4,"d":3e5,"e":9e5,"f":5e5,"g":8e5,"h":1.5e5,"i":1.3e6,"j":1.2e6,"k":2.69e6,"l":1.8e5,"dem":1.4e7}
]},
"layer": [
{
"transform": [{"fold": ["a","b","c","d","e","f","g","h","i","j","k","l"], "as": ["source","MWh"]}],
"mark": {"type": "area", "strokeWidth": 1, "opacity": 1, "fillOpacity": 1, "clip": true},
"encoding": {
"x": {"field": "day", "type": "quantitative", "scale": {"domain": [-18.2, 382.2], "nice": false, "zero": false},
 "axis": {"values": [0,50,100,150,200,250,300,350], "title": "Day of the year", "grid": false, "domain": false, "tickColor": "black", "tickSize": 5, "tickWidth": 1, "labelFontSize": 12.5, "labelColor": "black", "labelPadding": 3, "labelFont": "DejaVu Sans", "titleFont": "DejaVu Sans", "titleFontSize": 14.5, "titleFontWeight": "normal", "titleColor": "black", "titlePadding": 7}},
"y": {"field": "MWh", "type": "quantitative", "stack": "zero", "scale": {"domain": [0, 16600000], "nice": false},
 "axis": {"values": [0,2000000,4000000,6000000,8000000,10000000,12000000,14000000,16000000], "labelExpr": "format(datum.value/1e7, '.1f')", "title": "Energy generation in MWh", "grid": false, "domain": false, "tickColor": "black", "tickSize": 5, "tickWidth": 1, "labelFontSize": 12.5, "labelColor": "black", "labelPadding": 3, "labelFont": "DejaVu Sans", "titleFont": "DejaVu Sans", "titleFontSize": 14.5, "titleFontWeight": "normal", "titleColor": "black", "titlePadding": 10}},
"color": {"field": "source", "type": "nominal", "legend": null, "scale": {"domain": ["a","b","c","d","e","f","g","h","i","j","k","l"], "range": ["#3c963c","#ff8000","#000000","#c0633a","#d62728","#d3d3d3","#2ca82c","#2f7bbf","#ffd700","#008b8b","#20b2aa","#808080"]}},
"stroke": {"field": "source", "type": "nominal", "legend": null, "scale": {"domain": ["a","b","c","d","e","f","g","h","i","j","k","l"], "range": ["#3c963c","#ff8000","#000000","#c0633a","#d62728","#d3d3d3","#2ca82c","#2f7bbf","#ffd700","#008b8b","#20b2aa","#808080"]}},
"order": {"field": "source", "type": "nominal", "sort": "ascending"}
}
},
{
"mark": {"type": "line", "color": "black", "strokeWidth": 1.5, "strokeDash": [7, 3], "clip": true},
"encoding": {
"x": {"field": "day", "type": "quantitative"},
"y": {"field": "dem", "type": "quantitative", "title": "Energy generation in MWh"}
}
},
{
"data": {"values": [{}]},
"mark": {"type": "text", "text": "1e7", "align": "left", "baseline": "bottom", "dy": -3, "fontSize": 12.5, "font": "DejaVu Sans", "color": "black"},
"encoding": {"x": {"datum": -18.2}, "y": {"datum": 16600000}}
}
]
}
